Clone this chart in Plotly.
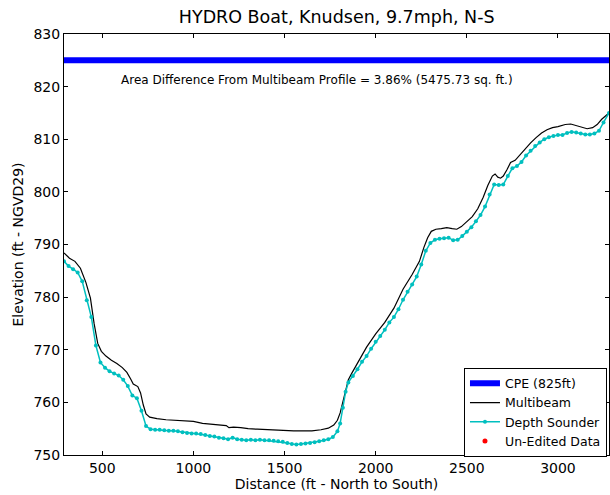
import plotly.graph_objects as go

# Cross-section profile, HYDRO boat run (Knudsen sounder, 9.7 mph, north to south)
title_text = "HYDRO Boat, Knudsen, 9.7mph, N-S"
x_label = "Distance (ft - North to South)"
y_label = "Elevation (ft - NGVD29)"
area_note = "Area Difference From Multibeam Profile = 3.86% (5475.73 sq. ft.)"

cpe_elev = 825
x_range = [290, 3280]
y_range = [750, 830]
x_ticks = [500, 1000, 1500, 2000, 2500, 3000]
y_ticks = [750, 760, 770, 780, 790, 800, 810, 820, 830]

# Multibeam reference profile
mb_dist = [290, 320, 350, 380, 410, 435, 455, 475, 495, 520, 550, 580, 610, 635, 655,
           670, 695, 710, 725, 740, 760, 800, 850, 900, 950, 1000, 1050, 1100, 1150,
           1180, 1195, 1220, 1260, 1300, 1350, 1400, 1450, 1500, 1550, 1600, 1650,
           1700, 1740, 1770, 1790, 1805, 1820, 1835, 1850, 1870, 1900, 1950, 2000,
           2050, 2100, 2150, 2200, 2240, 2265, 2285, 2305, 2330, 2360, 2390, 2420,
           2445, 2470, 2500, 2530, 2560, 2590, 2615, 2640, 2655, 2670, 2685, 2700,
           2720, 2740, 2765, 2790, 2820, 2850, 2880, 2910, 2940, 2970, 3000, 3040,
           3070, 3100, 3130, 3160, 3190, 3215, 3240, 3280]
mb_elev = [788.4, 787.4, 786.8, 785.5, 782.8, 779.8, 775.0, 771.2, 769.7, 768.8, 768.0,
           767.4, 766.6, 765.7, 764.5, 763.5, 763.0, 761.8, 759.5, 757.8, 757.2, 756.9,
           756.7, 756.6, 756.6, 756.4, 756.0, 755.9, 755.7, 755.6, 755.2, 755.3, 755.2,
           755.0, 754.9, 754.8, 754.8, 754.7, 754.6, 754.6, 754.6, 754.8, 755.1, 755.7,
           756.6, 758.0, 760.3, 762.6, 764.3, 765.6, 767.5, 770.5, 773.0, 775.2, 777.9,
           781.5, 784.3, 786.8, 789.5, 791.3, 792.5, 792.9, 793.0, 793.2, 793.0, 792.9,
           793.4, 794.3, 795.3, 796.8, 799.0, 801.2, 803.0, 803.4, 802.8, 802.6, 803.0,
           804.2, 805.6, 806.0, 807.0, 808.1, 809.3, 810.3, 811.2, 811.8, 812.2, 812.4,
           812.8, 812.9, 812.6, 812.2, 812.0, 812.2, 812.8, 813.8, 815.0]

# Single-beam depth sounder soundings
ds_dist = [290, 315, 340, 365, 390, 415, 440, 465, 490, 515, 540, 565, 590, 615, 640,
           665, 690, 715, 740, 765, 790, 815, 840, 865, 890, 915, 940, 965, 990, 1015,
           1040, 1065, 1090, 1115, 1140, 1165, 1190, 1215, 1240, 1265, 1290, 1315, 1340,
           1365, 1390, 1415, 1440, 1465, 1490, 1515, 1540, 1565, 1590, 1615, 1640, 1665,
           1690, 1715, 1740, 1765, 1790, 1805, 1820, 1835, 1850, 1875, 1900, 1925, 1950,
           1975, 2000, 2025, 2050, 2075, 2100, 2125, 2150, 2175, 2200, 2225, 2250, 2275,
           2300, 2325, 2350, 2375, 2400, 2425, 2450, 2475, 2500, 2525, 2550, 2575, 2600,
           2625, 2650, 2675, 2700, 2725, 2750, 2775, 2800, 2825, 2850, 2875, 2900, 2925,
           2950, 2975, 3000, 3025, 3050, 3075, 3100, 3125, 3150, 3175, 3200, 3225, 3250,
           3280]
ds_elev = [786.8, 785.9, 785.3, 784.7, 783.0, 779.4, 776.2, 770.8, 767.6, 766.6, 765.9,
           765.5, 765.1, 764.3, 763.1, 761.3, 760.8, 758.4, 755.5, 754.9, 754.8, 754.8,
           754.7, 754.6, 754.6, 754.5, 754.3, 754.2, 754.1, 754.1, 754.0, 753.8, 753.6,
           753.5, 753.3, 753.2, 753.0, 753.3, 753.0, 752.9, 752.8, 752.9, 752.8, 752.9,
           752.8, 752.8, 752.7, 752.6, 752.5, 752.3, 752.1, 752.0, 752.1, 752.2, 752.3,
           752.4, 752.6, 752.8, 753.0, 753.4, 754.5, 756.0, 759.0, 762.0, 763.8, 765.0,
           766.3, 767.7, 768.8, 770.2, 771.5, 772.6, 773.8, 775.2, 776.2, 777.7, 779.5,
           781.0, 782.4, 783.9, 786.2, 788.8, 790.3, 790.9, 791.1, 791.2, 791.3, 790.8,
           790.9, 791.6, 792.4, 793.3, 794.4, 795.6, 797.2, 799.5, 801.4, 801.3, 801.4,
           803.0, 804.5, 804.9, 805.7, 806.9, 807.8, 808.7, 809.4, 810.0, 810.4, 810.6,
           810.8, 810.8, 811.2, 811.4, 811.3, 811.1, 810.9, 810.9, 811.1, 811.6, 813.2,
           815.0]

# Raw (un-edited) soundings: none remain outside the edited profile
raw_dist = [None]
raw_elev = [None]

FONT = "DejaVu Sans"

fig = go.Figure()
fig.add_trace(go.Scatter(
    x=x_range, y=[cpe_elev, cpe_elev], mode="lines", name="CPE (825ft)",
    line=dict(color="#0000FF", width=6)))
fig.add_trace(go.Scatter(
    x=mb_dist, y=mb_elev, mode="lines", name="Multibeam",
    line=dict(color="#000000", width=1.2)))
fig.add_trace(go.Scatter(
    x=ds_dist, y=ds_elev, mode="lines+markers", name="Depth Sounder",
    line=dict(color="#00BFBF", width=1.5),
    marker=dict(color="#00BFBF", size=4)))
fig.add_trace(go.Scatter(
    x=raw_dist, y=raw_elev, mode="markers", name="Un-Edited Data",
    marker=dict(color="#FF0000", size=5)))

fig.add_annotation(
    x=1678, y=821.3, xref="x", yref="y", text=area_note, showarrow=False,
    font=dict(family=FONT, size=12, color="black"))

axis_common = dict(
    showline=True, linecolor="black", linewidth=1, mirror="allticks",
    ticks="inside", ticklen=4, tickcolor="black", showgrid=False, zeroline=False,
    tickfont=dict(family=FONT, size=14, color="black"))

fig.update_xaxes(range=x_range, tickvals=x_ticks,
                 title=dict(text=x_label, font=dict(family=FONT, size=14, color="black"),
                            standoff=1),
                 **axis_common)
fig.update_yaxes(range=y_range, tickvals=y_ticks,
                 title=dict(text=y_label, font=dict(family=FONT, size=14, color="black"),
                            standoff=6),
                 **axis_common)

fig.update_layout(
    width=610, height=495,
    margin=dict(l=64, r=1, t=34, b=40),
    paper_bgcolor="white", plot_bgcolor="white",
    font=dict(family=FONT, color="black"),
    title=dict(text=title_text, x=0.552, xanchor="center", y=0.965, yref="container",
               yanchor="middle", font=dict(family=FONT, size=17.5, color="black")),
    legend=dict(x=0.9963, y=-0.004, xanchor="right", yanchor="bottom",
                bordercolor="black", borderwidth=1, bgcolor="white",
                font=dict(family=FONT, size=12.5, color="black"),
                tracegroupgap=0, itemsizing="trace"),
    showlegend=True,
)

fig.write_html("out.html")
